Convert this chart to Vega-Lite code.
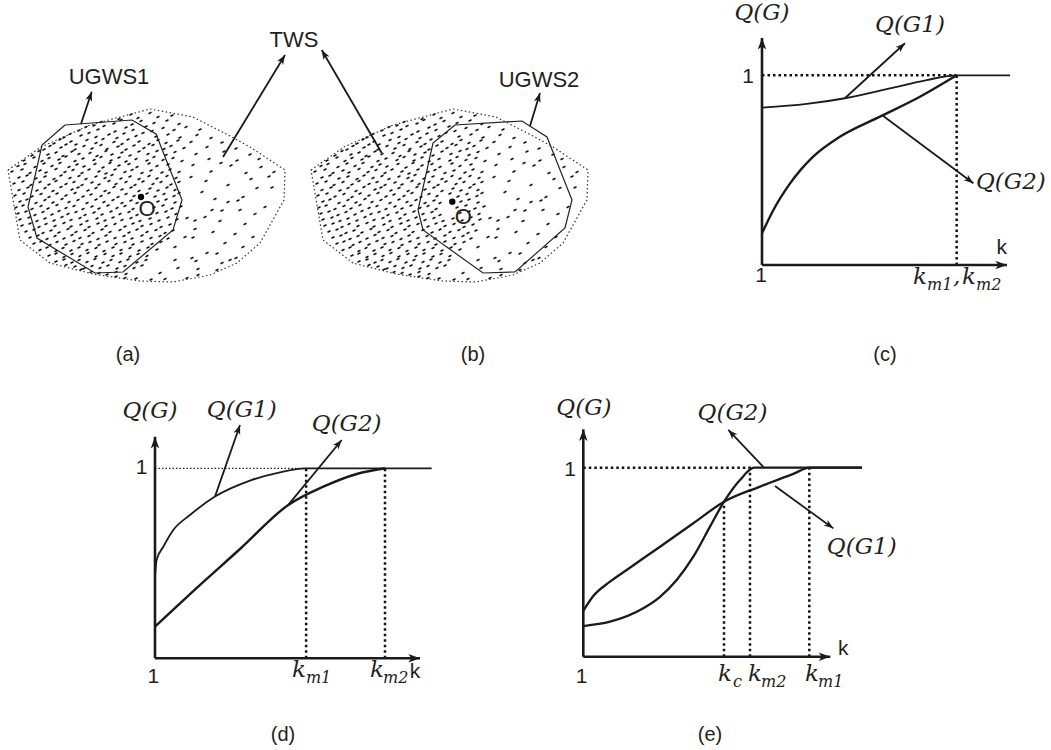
{
  "$schema": "https://vega.github.io/schema/vega-lite/v6.json",
  "background": "white",
  "padding": 0,
  "spacing": 0,
  "config": {"view": {"stroke": null}, "text": {"color": "#231f20"}},
  "datasets": {
    "cloud": [
      {"x":-2.6,"y":9.0},{"x":-1.4,"y":9.45},{"x":-0.7,"y":9.1},{"x":0.5,"y":9.6},{"x":1.3,"y":9.2},{"x":2.7,"y":9.35},
      {"x":-5.1,"y":8.35},{"x":-4.4,"y":8.7},{"x":-3.1,"y":8.55},{"x":-2.4,"y":8.9},{"x":-1.3,"y":8.45},{"x":-0.4,"y":8.8},{"x":0.9,"y":8.6},{"x":2.2,"y":8.85},{"x":3.4,"y":8.5},
      {"x":-6.6,"y":7.85},{"x":-5.9,"y":8.2},{"x":-4.7,"y":7.95},{"x":-4.1,"y":8.3},{"x":-3.0,"y":7.75},{"x":-1.9,"y":8.15},{"x":-1.2,"y":7.9},{"x":0.1,"y":8.25},{"x":0.7,"y":7.8},{"x":1.8,"y":8.1},{"x":2.9,"y":7.9},{"x":4.1,"y":8.2},{"x":5.5,"y":7.95},
      {"x":-8.1,"y":7.15},{"x":-7.5,"y":7.5},{"x":-6.4,"y":7.35},{"x":-5.6,"y":7.6},{"x":-4.9,"y":7.2},{"x":-3.6,"y":7.45},{"x":-2.8,"y":7.1},{"x":-2.1,"y":7.55},{"x":-0.9,"y":7.3},{"x":-0.2,"y":7.6},{"x":1.1,"y":7.25},{"x":2.3,"y":7.45},{"x":3.5,"y":7.15},{"x":5.2,"y":7.4},{"x":6.6,"y":7.1},
      {"x":-9.1,"y":6.55},{"x":-8.5,"y":6.95},{"x":-7.4,"y":6.75},{"x":-6.9,"y":6.45},{"x":-5.8,"y":6.9},{"x":-4.9,"y":6.6},{"x":-4.2,"y":7.0},{"x":-3.1,"y":6.7},{"x":-2.3,"y":6.5},{"x":-1.7,"y":6.95},{"x":-0.6,"y":6.75},{"x":0.4,"y":6.5},{"x":1.3,"y":6.9},{"x":2.1,"y":6.6},{"x":3.3,"y":6.85},{"x":4.6,"y":6.7},{"x":7.7,"y":6.65},
      {"x":-10.1,"y":5.95},{"x":-9.5,"y":6.3},{"x":-8.4,"y":6.15},{"x":-7.9,"y":6.45},{"x":-7.0,"y":5.95},{"x":-6.1,"y":6.3},{"x":-5.3,"y":6.05},{"x":-4.4,"y":6.4},{"x":-3.8,"y":6.0},{"x":-2.7,"y":6.25},{"x":-1.9,"y":5.95},{"x":-1.1,"y":6.35},{"x":-0.1,"y":6.1},{"x":0.8,"y":6.4},{"x":1.9,"y":6.0},{"x":2.6,"y":6.3},{"x":3.9,"y":6.1},{"x":6.2,"y":6.2},{"x":9.1,"y":6.05},
      {"x":-11.3,"y":5.35},{"x":-10.6,"y":5.8},{"x":-9.7,"y":5.45},{"x":-8.9,"y":5.65},{"x":-8.2,"y":5.3},{"x":-7.3,"y":5.75},{"x":-6.6,"y":5.5},{"x":-5.5,"y":5.6},{"x":-4.8,"y":5.3},{"x":-3.9,"y":5.8},{"x":-3.3,"y":5.45},{"x":-2.3,"y":5.65},{"x":-1.5,"y":5.35},{"x":-0.6,"y":5.75},{"x":0.3,"y":5.5},{"x":1.2,"y":5.8},{"x":2.1,"y":5.4},{"x":3.0,"y":5.7},{"x":5.1,"y":5.5},{"x":7.9,"y":5.75},{"x":10.5,"y":5.45},
      {"x":-12.1,"y":4.85},{"x":-11.1,"y":5.15},{"x":-10.3,"y":4.8},{"x":-9.6,"y":5.1},{"x":-8.6,"y":4.95},{"x":-7.9,"y":5.25},{"x":-7.0,"y":4.8},{"x":-6.2,"y":5.05},{"x":-5.1,"y":4.9},{"x":-4.4,"y":5.2},{"x":-3.4,"y":4.85},{"x":-2.6,"y":5.15},{"x":-1.9,"y":4.75},{"x":-0.9,"y":5.0},{"x":0.2,"y":4.85},{"x":0.9,"y":5.2},{"x":1.8,"y":4.9},{"x":2.8,"y":5.1},{"x":3.7,"y":4.8},{"x":6.4,"y":5.0},{"x":9.2,"y":4.85},{"x":11.4,"y":5.0},
      {"x":-12.7,"y":4.3},{"x":-12.0,"y":4.5},{"x":-11.0,"y":4.2},{"x":-10.1,"y":4.55},{"x":-9.3,"y":4.3},{"x":-8.5,"y":4.6},{"x":-7.6,"y":4.2},{"x":-6.8,"y":4.45},{"x":-6.1,"y":4.25},{"x":-5.0,"y":4.5},{"x":-4.2,"y":4.15},{"x":-3.5,"y":4.6},{"x":-2.6,"y":4.35},{"x":-1.6,"y":4.5},{"x":-0.8,"y":4.2},{"x":0.4,"y":4.55},{"x":1.2,"y":4.3},{"x":2.3,"y":4.45},{"x":4.8,"y":4.4},{"x":7.6,"y":4.6},{"x":8.6,"y":4.35},{"x":11.6,"y":4.2},
      {"x":-13.3,"y":3.75},{"x":-12.3,"y":3.95},{"x":-11.5,"y":3.6},{"x":-10.5,"y":3.85},{"x":-9.9,"y":3.65},{"x":-8.9,"y":4.0},{"x":-8.0,"y":3.7},{"x":-7.2,"y":3.9},{"x":-6.3,"y":3.6},{"x":-5.6,"y":3.95},{"x":-4.6,"y":3.75},{"x":-3.9,"y":3.55},{"x":-3.0,"y":3.95},{"x":-2.0,"y":3.7},{"x":-1.3,"y":3.9},{"x":-0.3,"y":3.6},{"x":0.6,"y":3.85},{"x":1.7,"y":3.65},{"x":2.5,"y":3.95},{"x":3.4,"y":3.7},{"x":6.6,"y":3.75},{"x":10.1,"y":3.6},{"x":12.9,"y":3.7},
      {"x":-12.6,"y":3.15},{"x":-11.8,"y":3.35},{"x":-10.9,"y":3.05},{"x":-10.0,"y":3.25},{"x":-9.1,"y":3.0},{"x":-8.4,"y":3.35},{"x":-7.5,"y":3.1},{"x":-6.6,"y":3.3},{"x":-5.9,"y":3.0},{"x":-4.9,"y":3.25},{"x":-4.0,"y":3.1},{"x":-3.3,"y":3.4},{"x":-2.4,"y":3.05},{"x":-1.5,"y":3.25},{"x":-0.6,"y":3.0},{"x":0.4,"y":3.3},{"x":1.2,"y":3.05},{"x":2.2,"y":3.3},{"x":3.1,"y":3.1},{"x":4.6,"y":3.2},{"x":10.6,"y":3.0},{"x":12.4,"y":3.25},
      {"x":-13.1,"y":2.55},{"x":-12.2,"y":2.75},{"x":-11.4,"y":2.4},{"x":-10.5,"y":2.7},{"x":-9.6,"y":2.45},{"x":-8.9,"y":2.8},{"x":-7.9,"y":2.5},{"x":-7.1,"y":2.7},{"x":-6.3,"y":2.4},{"x":-5.3,"y":2.65},{"x":-4.6,"y":2.45},{"x":-3.6,"y":2.8},{"x":-2.9,"y":2.5},{"x":-1.9,"y":2.7},{"x":-1.0,"y":2.4},{"x":-0.2,"y":2.75},{"x":0.8,"y":2.5},{"x":1.6,"y":2.7},{"x":2.6,"y":2.45},{"x":3.4,"y":2.7},{"x":6.1,"y":2.8},{"x":8.3,"y":2.4},{"x":11.2,"y":2.1},{"x":12.7,"y":2.15},
      {"x":-12.6,"y":1.9},{"x":-11.7,"y":2.15},{"x":-10.8,"y":1.85},{"x":-10.0,"y":2.1},{"x":-9.2,"y":1.8},{"x":-8.4,"y":2.2},{"x":-7.3,"y":1.95},{"x":-6.7,"y":2.15},{"x":-5.7,"y":1.85},{"x":-4.9,"y":2.1},{"x":-4.0,"y":1.8},{"x":-3.1,"y":2.2},{"x":-2.3,"y":1.95},{"x":-1.4,"y":2.15},{"x":-0.6,"y":1.8},{"x":0.5,"y":2.05},{"x":1.3,"y":1.85},{"x":2.2,"y":2.15},{"x":3.0,"y":1.9},{"x":5.7,"y":1.7},
      {"x":-13.0,"y":1.35},{"x":-12.1,"y":1.55},{"x":-11.3,"y":1.25},{"x":-10.4,"y":1.5},{"x":-9.6,"y":1.2},{"x":-8.8,"y":1.55},{"x":-7.9,"y":1.35},{"x":-7.0,"y":1.6},{"x":-6.2,"y":1.25},{"x":-5.4,"y":1.45},{"x":-4.4,"y":1.3},{"x":-3.6,"y":1.6},{"x":-2.7,"y":1.2},{"x":-1.9,"y":1.5},{"x":-1.1,"y":1.3},{"x":0.2,"y":1.55},{"x":1.0,"y":1.25},{"x":1.9,"y":1.5},{"x":2.9,"y":1.3},{"x":3.4,"y":1.6},{"x":7.0,"y":1.0},{"x":9.8,"y":1.2},
      {"x":-12.5,"y":0.75},{"x":-11.8,"y":0.95},{"x":-10.9,"y":0.6},{"x":-10.0,"y":0.9},{"x":-9.2,"y":0.65},{"x":-8.3,"y":1.0},{"x":-7.6,"y":0.7},{"x":-6.7,"y":0.9},{"x":-5.8,"y":0.6},{"x":-4.9,"y":0.95},{"x":-4.1,"y":0.7},{"x":-3.2,"y":0.9},{"x":-2.3,"y":0.6},{"x":-1.4,"y":0.85},{"x":-0.8,"y":0.6},{"x":1.3,"y":0.75},{"x":2.1,"y":0.95},{"x":3.0,"y":0.65},{"x":8.3,"y":0.7},{"x":9.3,"y":0.85},
      {"x":-12.9,"y":0.15},{"x":-12.2,"y":0.35},{"x":-11.3,"y":0.0},{"x":-10.4,"y":0.3},{"x":-9.7,"y":0.05},{"x":-8.8,"y":0.4},{"x":-7.9,"y":0.1},{"x":-7.1,"y":0.3},{"x":-6.2,"y":0.0},{"x":-5.3,"y":0.25},{"x":-4.6,"y":0.05},{"x":-3.7,"y":0.35},{"x":-2.8,"y":0.1},{"x":-2.0,"y":0.3},{"x":-1.2,"y":0.0},{"x":0.9,"y":0.15},{"x":1.8,"y":0.35},{"x":2.7,"y":0.05},{"x":3.6,"y":0.25},{"x":12.0,"y":0.2},
      {"x":-12.7,"y":-0.45},{"x":-11.9,"y":-0.25},{"x":-11.0,"y":-0.6},{"x":-10.2,"y":-0.3},{"x":-9.3,"y":-0.55},{"x":-8.6,"y":-0.2},{"x":-7.7,"y":-0.5},{"x":-6.9,"y":-0.3},{"x":-6.0,"y":-0.6},{"x":-5.1,"y":-0.35},{"x":-4.3,"y":-0.55},{"x":-3.4,"y":-0.25},{"x":-2.5,"y":-0.5},{"x":-1.6,"y":-0.3},{"x":-0.8,"y":-0.6},{"x":1.2,"y":-0.4},{"x":2.1,"y":-0.25},{"x":3.1,"y":-0.5},{"x":6.7,"y":-0.1},{"x":7.7,"y":-0.15},{"x":9.5,"y":-0.1},{"x":11.0,"y":-0.5},
      {"x":-12.5,"y":-1.05},{"x":-11.6,"y":-0.85},{"x":-10.8,"y":-1.2},{"x":-10.0,"y":-0.95},{"x":-9.1,"y":-1.15},{"x":-8.3,"y":-0.8},{"x":-7.4,"y":-1.1},{"x":-6.5,"y":-0.9},{"x":-5.8,"y":-1.2},{"x":-4.8,"y":-0.95},{"x":-4.0,"y":-1.15},{"x":-3.2,"y":-0.85},{"x":-2.3,"y":-1.1},{"x":-1.4,"y":-0.9},{"x":-0.5,"y":-1.2},{"x":0.5,"y":-0.95},{"x":1.4,"y":-1.15},{"x":2.3,"y":-0.85},{"x":3.2,"y":-1.05},{"x":4.2,"y":-0.9},{"x":5.0,"y":-1.15},{"x":6.0,"y":-0.8},{"x":7.5,"y":-1.2},
      {"x":-12.3,"y":-1.65},{"x":-11.5,"y":-1.45},{"x":-10.6,"y":-1.8},{"x":-9.9,"y":-1.5},{"x":-9.0,"y":-1.7},{"x":-8.1,"y":-1.4},{"x":-7.4,"y":-1.75},{"x":-6.4,"y":-1.55},{"x":-5.6,"y":-1.8},{"x":-4.7,"y":-1.45},{"x":-3.9,"y":-1.7},{"x":-3.0,"y":-1.5},{"x":-2.0,"y":-1.75},{"x":-1.2,"y":-1.45},{"x":-0.3,"y":-1.7},{"x":0.6,"y":-1.5},{"x":1.6,"y":-1.8},{"x":2.5,"y":-1.55},{"x":10.0,"y":-1.5},
      {"x":-11.9,"y":-2.25},{"x":-11.1,"y":-2.05},{"x":-10.2,"y":-2.4},{"x":-9.4,"y":-2.15},{"x":-8.6,"y":-2.35},{"x":-7.7,"y":-2.0},{"x":-6.9,"y":-2.3},{"x":-6.0,"y":-2.1},{"x":-5.2,"y":-2.4},{"x":-4.3,"y":-2.05},{"x":-3.5,"y":-2.3},{"x":-2.5,"y":-2.1},{"x":-1.6,"y":-2.35},{"x":-0.8,"y":-2.05},{"x":0.2,"y":-2.3},{"x":1.1,"y":-2.1},{"x":2.0,"y":-2.4},{"x":2.8,"y":-2.15},{"x":5.0,"y":-2.0},{"x":6.8,"y":-2.3},
      {"x":-11.5,"y":-2.85},{"x":-10.7,"y":-2.65},{"x":-9.8,"y":-3.0},{"x":-9.0,"y":-2.7},{"x":-8.1,"y":-2.95},{"x":-7.3,"y":-2.6},{"x":-6.5,"y":-2.9},{"x":-5.6,"y":-2.7},{"x":-4.7,"y":-3.0},{"x":-3.9,"y":-2.65},{"x":-3.0,"y":-2.9},{"x":-2.1,"y":-2.7},{"x":-1.3,"y":-2.95},{"x":-0.3,"y":-2.65},{"x":0.6,"y":-2.9},{"x":1.5,"y":-2.7},{"x":2.3,"y":-2.95},{"x":4.0,"y":-2.8},{"x":4.8,"y":-2.85},{"x":9.0,"y":-2.5},{"x":10.8,"y":-2.8},
      {"x":-11.1,"y":-3.45},{"x":-10.4,"y":-3.25},{"x":-9.5,"y":-3.6},{"x":-8.8,"y":-3.3},{"x":-7.9,"y":-3.55},{"x":-7.1,"y":-3.2},{"x":-6.3,"y":-3.5},{"x":-5.5,"y":-3.3},{"x":-4.6,"y":-3.6},{"x":-3.8,"y":-3.25},{"x":-2.9,"y":-3.5},{"x":-2.0,"y":-3.3},{"x":-1.2,"y":-3.55},{"x":-0.3,"y":-3.25},{"x":0.7,"y":-3.5},{"x":1.6,"y":-3.3},{"x":8.0,"y":-3.4},
      {"x":-10.5,"y":-4.1},{"x":-9.8,"y":-3.85},{"x":-8.9,"y":-4.2},{"x":-8.2,"y":-3.9},{"x":-7.4,"y":-4.15},{"x":-6.6,"y":-3.85},{"x":-5.8,"y":-4.1},{"x":-4.9,"y":-3.9},{"x":-4.1,"y":-4.2},{"x":-3.2,"y":-3.85},{"x":-2.4,"y":-4.1},{"x":-1.5,"y":-3.9},{"x":-0.6,"y":-4.15},{"x":0.3,"y":-3.85},{"x":1.2,"y":-4.05},{"x":3.0,"y":-3.8},{"x":9.8,"y":-3.8},
      {"x":-9.6,"y":-4.65},{"x":-8.9,"y":-4.45},{"x":-8.1,"y":-4.8},{"x":-7.3,"y":-4.5},{"x":-6.5,"y":-4.7},{"x":-5.7,"y":-4.4},{"x":-4.9,"y":-4.75},{"x":-4.0,"y":-4.5},{"x":-3.2,"y":-4.7},{"x":-2.4,"y":-4.45},{"x":-1.5,"y":-4.75},{"x":-0.7,"y":-4.5},{"x":0.2,"y":-4.7},{"x":6.2,"y":-4.4},{"x":7.2,"y":-4.45},
      {"x":-8.9,"y":-5.25},{"x":-8.1,"y":-5.05},{"x":-7.3,"y":-5.35},{"x":-6.6,"y":-5.1},{"x":-5.8,"y":-5.3},{"x":-5.0,"y":-5.0},{"x":-4.2,"y":-5.35},{"x":-3.4,"y":-5.1},{"x":-2.5,"y":-5.3},{"x":-1.7,"y":-5.05},{"x":-0.8,"y":-5.35},{"x":0.1,"y":-5.1},{"x":3.0,"y":-5.1},{"x":4.7,"y":-4.9},{"x":5.1,"y":-5.2},{"x":7.7,"y":-5.4},{"x":8.5,"y":-5.1},{"x":9.1,"y":-4.9},
      {"x":-7.9,"y":-5.6},{"x":-7.0,"y":-5.75},{"x":-6.1,"y":-5.95},{"x":-5.3,"y":-5.7},{"x":-4.5,"y":-5.9},{"x":-3.7,"y":-5.65},{"x":-2.8,"y":-5.95},{"x":-2.0,"y":-5.7},{"x":-1.1,"y":-5.9},{"x":-0.3,"y":-5.65},{"x":3.3,"y":-5.9},{"x":5.3,"y":-6.0},
      {"x":-6.4,"y":-6.05},{"x":-5.4,"y":-6.3},{"x":-4.6,"y":-6.4},{"x":-3.8,"y":-6.55},{"x":-2.9,"y":-6.3},{"x":-1.9,"y":-6.5},{"x":1.5,"y":-6.4},{"x":5.3,"y":-6.6},{"x":7.2,"y":-6.1},
      {"x":-2.9,"y":-6.75},{"x":-2.0,"y":-6.9},{"x":-0.9,"y":-6.95},{"x":0.6,"y":-7.05},{"x":2.0,"y":-7.0},{"x":4.2,"y":-6.9}
    ],
    "hull": [
      {"i":0,"x":-13.7,"y":3.9},{"i":1,"x":-10.4,"y":6.2},{"i":2,"x":-5.5,"y":8.4},{"i":3,"x":0.5,"y":10.0},{"i":4,"x":4.8,"y":9.2},{"i":5,"x":8.5,"y":7.3},{"i":6,"x":10.5,"y":6.2},{"i":7,"x":14.0,"y":3.9},{"i":8,"x":13.9,"y":0.9},{"i":9,"x":11.5,"y":-3.4},{"i":10,"x":9.2,"y":-5.4},{"i":11,"x":6.5,"y":-6.6},{"i":12,"x":2.8,"y":-7.3},{"i":13,"x":-0.5,"y":-7.2},{"i":14,"x":-5.2,"y":-6.5},{"i":15,"x":-9.5,"y":-5.4},{"i":16,"x":-12.5,"y":-3.1},{"i":17,"x":-13.7,"y":3.9}
    ]
  },
  "vconcat": [
    {
      "spacing": 0,
      "bounds": "flush",
      "hconcat": [
        {
          "width": 300,
          "height": 375,
          "encoding": {
            "x": {"field": "x", "type": "quantitative", "scale": {"domain": [-14.5, 15.5], "nice": false, "zero": false}, "axis": null},
            "y": {"field": "y", "type": "quantitative", "scale": {"domain": [-16.6, 20.9], "nice": false, "zero": false}, "axis": null}
          },
          "layer": [
            {"data": {"name": "cloud"}, "mark": {"type": "point", "shape": "M-1,0.5L1,-0.5", "filled": false, "stroke": "#111", "strokeWidth": 1.5, "size": 9, "opacity": 1}},
            {"data": {"name": "hull"}, "mark": {"type": "line", "color": "#333", "strokeWidth": 1.2, "strokeDash": [1.5, 2.5]}, "encoding": {"order": {"field": "i", "type": "quantitative"}}},
            {"data": {"values": [
              {"i":0,"x":-8.0,"y":8.4},{"i":1,"x":-1.3,"y":8.9},{"i":2,"x":1.1,"y":7.5},{"i":3,"x":3.7,"y":0.9},{"i":4,"x":2.8,"y":-2.1},{"i":5,"x":-2.2,"y":-6.3},{"i":6,"x":-5.0,"y":-6.4},{"i":7,"x":-10.8,"y":-2.9},{"i":8,"x":-11.7,"y":0.2},{"i":9,"x":-10.3,"y":6.4},{"i":10,"x":-8.0,"y":8.4}
            ]}, "mark": {"type": "line", "color": "#222", "strokeWidth": 1.2}, "encoding": {"order": {"field": "i", "type": "quantitative"}}},
            {"data": {"values": [
              {"x":-6.4,"y":8.5,"x2":-5.33,"y2":11.73,"h":18.3},
              {"x":7.8,"y":5.2,"x2":14.0,"y2":15.4,"h":31.3}
            ]}, "layer": [
              {"mark": {"type": "rule", "color": "#1a1a1a", "strokeWidth": 1.8}, "encoding": {"x2": {"field": "x2"}, "y2": {"field": "y2"}}},
              {"mark": {"type": "point", "shape": "M0,0L0.7,1.9L0,1.4L-0.7,1.9Z", "filled": true, "color": "#1a1a1a", "size": 100, "opacity": 1},
               "encoding": {"x": {"field": "x2", "type": "quantitative"}, "y": {"field": "y2", "type": "quantitative"}, "angle": {"field": "h", "type": "quantitative", "scale": null}}}
            ]},
            {"data": {"values": [{"x": -0.4, "y": 1.2}]}, "mark": {"type": "circle", "size": 40, "color": "#000", "opacity": 1}},
            {"data": {"values": [
              {"x":-3.6,"y":13.2,"t":"UGWS1"},{"x":14.9,"y":16.95,"t":"TWS"},{"x":0.2,"y":0.0,"t":"O"}
            ]}, "mark": {"type": "text", "font": "Liberation Sans", "fontSize": 22}, "encoding": {"text": {"field": "t"}}},
            {"data": {"values": [{"x": -1.7, "y": -14.6, "t": "(a)"}]}, "mark": {"type": "text", "font": "Liberation Sans", "fontSize": 20}, "encoding": {"text": {"field": "t"}}}
          ]
        },
        {
          "width": 300,
          "height": 375,
          "encoding": {
            "x": {"field": "x", "type": "quantitative", "scale": {"domain": [-14.8, 15.2], "nice": false, "zero": false}, "axis": null},
            "y": {"field": "y", "type": "quantitative", "scale": {"domain": [-16.6, 20.9], "nice": false, "zero": false}, "axis": null}
          },
          "layer": [
            {"data": {"name": "cloud"}, "mark": {"type": "point", "shape": "M-1,0.5L1,-0.5", "filled": false, "stroke": "#111", "strokeWidth": 1.5, "size": 9, "opacity": 1}},
            {"data": {"name": "hull"}, "mark": {"type": "line", "color": "#333", "strokeWidth": 1.2, "strokeDash": [1.5, 2.5]}, "encoding": {"order": {"field": "i", "type": "quantitative"}}},
            {"data": {"values": [
              {"i":0,"x":0.7,"y":8.4},{"i":1,"x":7.4,"y":8.8},{"i":2,"x":9.9,"y":7.2},{"i":3,"x":12.4,"y":0.9},{"i":4,"x":11.7,"y":-1.9},{"i":5,"x":6.7,"y":-6.3},{"i":6,"x":3.5,"y":-6.4},{"i":7,"x":-2.5,"y":-2.1},{"i":8,"x":-3.0,"y":-0.1},{"i":9,"x":-1.5,"y":6.6},{"i":10,"x":0.7,"y":8.4}
            ]}, "mark": {"type": "line", "color": "#222", "strokeWidth": 1.2}, "encoding": {"order": {"field": "i", "type": "quantitative"}}},
            {"data": {"values": [
              {"x":-6.63,"y":5.6,"x2":-12.63,"y2":15.9,"h":-30.2},
              {"x":8.2,"y":8.3,"x2":9.2,"y2":11.6,"h":17.4}
            ]}, "layer": [
              {"mark": {"type": "rule", "color": "#1a1a1a", "strokeWidth": 1.8}, "encoding": {"x2": {"field": "x2"}, "y2": {"field": "y2"}}},
              {"mark": {"type": "point", "shape": "M0,0L0.7,1.9L0,1.4L-0.7,1.9Z", "filled": true, "color": "#1a1a1a", "size": 100, "opacity": 1},
               "encoding": {"x": {"field": "x2", "type": "quantitative"}, "y": {"field": "y2", "type": "quantitative"}, "angle": {"field": "h", "type": "quantitative", "scale": null}}}
            ]},
            {"data": {"values": [{"x": 0.43, "y": 0.73}]}, "mark": {"type": "circle", "size": 40, "color": "#000", "opacity": 1}},
            {"data": {"values": [
              {"x":9.1,"y":12.9,"t":"UGWS2"},{"x":1.53,"y":-0.77,"t":"O"}
            ]}, "mark": {"type": "text", "font": "Liberation Sans", "fontSize": 22}, "encoding": {"text": {"field": "t"}}},
            {"data": {"values": [{"x": 2.5, "y": -14.6, "t": "(b)"}]}, "mark": {"type": "text", "font": "Liberation Sans", "fontSize": 20}, "encoding": {"text": {"field": "t"}}}
          ]
        },
        {
          "width": 451,
          "height": 375,
          "encoding": {
            "x": {"field": "x", "type": "quantitative", "scale": {"domain": [-4.825, 11.392], "nice": false, "zero": false}, "axis": null},
            "y": {"field": "y", "type": "quantitative", "scale": {"domain": [-0.58, 1.397], "nice": false, "zero": false}, "axis": null}
          },
          "layer": [
            {"data": {"values": [
              {"x":1,"y":1,"x2":8,"y2":1},{"x":8,"y":0,"x2":8,"y2":1}
            ]}, "mark": {"type": "rule", "color": "#111", "strokeWidth": 2.5, "strokeDash": [2.5, 3]}, "encoding": {"x2": {"field": "x2"}, "y2": {"field": "y2"}}},
            {"data": {"values": [
              {"x":1,"y":0.83},{"x":2.61,"y":0.849},{"x":3.98,"y":0.879},{"x":5.6,"y":0.931},{"x":6.92,"y":0.975},{"x":8,"y":1},{"x":9.92,"y":1}
            ]}, "mark": {"type": "line", "interpolate": "monotone", "color": "#1a1a1a", "strokeWidth": 1.8}},
            {"data": {"values": [
              {"x":1,"y":0.167},{"x":1.41,"y":0.29},{"x":2.01,"y":0.43},{"x":2.84,"y":0.571},{"x":3.8,"y":0.676},{"x":5.24,"y":0.782},{"x":6.68,"y":0.887},{"x":8,"y":1}
            ]}, "mark": {"type": "line", "interpolate": "monotone", "color": "#1a1a1a", "strokeWidth": 2.4}},
            {"data": {"values": [
              {"x":1,"y":0,"x2":1,"y2":1.197,"h":0},{"x":1,"y":0,"x2":9.81,"y2":0,"h":90}
            ]}, "layer": [
              {"mark": {"type": "rule", "color": "#1a1a1a", "strokeWidth": 2.6}, "encoding": {"x2": {"field": "x2"}, "y2": {"field": "y2"}}},
              {"mark": {"type": "point", "shape": "M0,0L0.7,1.9L0,1.4L-0.7,1.9Z", "filled": true, "color": "#1a1a1a", "size": 150, "opacity": 1},
               "encoding": {"x": {"field": "x2", "type": "quantitative"}, "y": {"field": "y2", "type": "quantitative"}, "angle": {"field": "h", "type": "quantitative", "scale": null}}}
            ]},
            {"data": {"values": [
              {"x":3.98,"y":0.879,"x2":6.14,"y2":1.169,"h":47.5},
              {"x":5.36,"y":0.785,"x2":8.6,"y2":0.431,"h":126.8}
            ]}, "layer": [
              {"mark": {"type": "rule", "color": "#1a1a1a", "strokeWidth": 1.8}, "encoding": {"x2": {"field": "x2"}, "y2": {"field": "y2"}}},
              {"mark": {"type": "point", "shape": "M0,0L0.7,1.9L0,1.4L-0.7,1.9Z", "filled": true, "color": "#1a1a1a", "size": 100, "opacity": 1},
               "encoding": {"x": {"field": "x2", "type": "quantitative"}, "y": {"field": "y2", "type": "quantitative"}, "angle": {"field": "h", "type": "quantitative", "scale": null}}}
            ]},
            {"data": {"values": [
              {"x":1,"y":1.33,"t":"Q(G)"},{"x":6.32,"y":1.265,"t":"Q(G1)"},{"x":9.95,"y":0.439,"t":"Q(G2)"}
            ]}, "mark": {"type": "text", "font": "DejaVu Serif", "fontStyle": "italic", "fontSize": 23}, "encoding": {"text": {"field": "t"}}},
            {"data": {"values": [
              {"x":6.43,"y":-0.063,"t":"k"},{"x":7.87,"y":-0.063,"t":","},{"x":8.192,"y":-0.063,"t":"k"}
            ]}, "mark": {"type": "text", "font": "DejaVu Serif", "fontStyle": "italic", "fontSize": 23, "align": "left"}, "encoding": {"text": {"field": "t"}}},
            {"data": {"values": [
              {"x":6.933,"y":-0.105,"t":"m1"},{"x":8.695,"y":-0.105,"t":"m2"}
            ]}, "mark": {"type": "text", "font": "DejaVu Serif", "fontStyle": "italic", "fontSize": 16, "align": "left"}, "encoding": {"text": {"field": "t"}}},
            {"data": {"values": [
              {"x":9.62,"y":0.088,"t":"k"},{"x":0.964,"y":-0.058,"t":"1"},{"x":0.497,"y":0.993,"t":"1"}
            ]}, "mark": {"type": "text", "font": "Liberation Sans", "fontSize": 21}, "encoding": {"text": {"field": "t"}}},
            {"data": {"values": [{"x": 5.423, "y": -0.474, "t": "(c)"}]}, "mark": {"type": "text", "font": "Liberation Sans", "fontSize": 20}, "encoding": {"text": {"field": "t"}}}
          ]
        }
      ]
    },
    {
      "spacing": 0,
      "bounds": "flush",
      "hconcat": [
        {
          "width": 500,
          "height": 375,
          "encoding": {
            "x": {"field": "x", "type": "quantitative", "scale": {"domain": [-3.717, 11.5], "nice": false, "zero": false}, "axis": null},
            "y": {"field": "y", "type": "quantitative", "scale": {"domain": [-0.483, 1.491], "nice": false, "zero": false}, "axis": null}
          },
          "layer": [
            {"data": {"values": [{"x":1,"y":1,"x2":5.6,"y2":1}]}, "mark": {"type": "rule", "color": "#222", "strokeWidth": 1.3, "strokeDash": [1.5, 2]}, "encoding": {"x2": {"field": "x2"}, "y2": {"field": "y2"}}},
            {"data": {"values": [
              {"x":5.6,"y":0,"x2":5.6,"y2":1},{"x":8,"y":0,"x2":8,"y2":1}
            ]}, "mark": {"type": "rule", "color": "#111", "strokeWidth": 2.5, "strokeDash": [2.5, 3]}, "encoding": {"x2": {"field": "x2"}, "y2": {"field": "y2"}}},
            {"data": {"values": [
              {"x":1,"y":0.43},{"x":1.05,"y":0.517},{"x":1.253,"y":0.587},{"x":1.557,"y":0.675},{"x":2.065,"y":0.754},{"x":2.826,"y":0.851},{"x":3.891,"y":0.935},{"x":4.804,"y":0.979},{"x":5.6,"y":1.0},{"x":9.42,"y":1.0}
            ]}, "mark": {"type": "line", "interpolate": "monotone", "color": "#1a1a1a", "strokeWidth": 1.8}},
            {"data": {"values": [
              {"x":1,"y":0.167},{"x":2.065,"y":0.338},{"x":3.587,"y":0.575},{"x":5.057,"y":0.807},{"x":6.122,"y":0.903},{"x":7.139,"y":0.97},{"x":8,"y":1.0}
            ]}, "mark": {"type": "line", "interpolate": "monotone", "color": "#1a1a1a", "strokeWidth": 2.4}},
            {"data": {"values": [
              {"x":1,"y":0,"x2":1,"y2":1.166,"h":0},{"x":1,"y":0,"x2":9.065,"y2":0,"h":90}
            ]}, "layer": [
              {"mark": {"type": "rule", "color": "#1a1a1a", "strokeWidth": 2.6}, "encoding": {"x2": {"field": "x2"}, "y2": {"field": "y2"}}},
              {"mark": {"type": "point", "shape": "M0,0L0.7,1.9L0,1.4L-0.7,1.9Z", "filled": true, "color": "#1a1a1a", "size": 150, "opacity": 1},
               "encoding": {"x": {"field": "x2", "type": "quantitative"}, "y": {"field": "y2", "type": "quantitative"}, "angle": {"field": "h", "type": "quantitative", "scale": null}}}
            ]},
            {"data": {"values": [
              {"x":2.826,"y":0.851,"x2":3.587,"y2":1.228,"h":19.2},
              {"x":5.057,"y":0.807,"x2":6.682,"y2":1.149,"h":39.4}
            ]}, "layer": [
              {"mark": {"type": "rule", "color": "#1a1a1a", "strokeWidth": 1.8}, "encoding": {"x2": {"field": "x2"}, "y2": {"field": "y2"}}},
              {"mark": {"type": "point", "shape": "M0,0L0.7,1.9L0,1.4L-0.7,1.9Z", "filled": true, "color": "#1a1a1a", "size": 100, "opacity": 1},
               "encoding": {"x": {"field": "x2", "type": "quantitative"}, "y": {"field": "y2", "type": "quantitative"}, "angle": {"field": "h", "type": "quantitative", "scale": null}}}
            ]},
            {"data": {"values": [
              {"x":0.848,"y":1.302,"t":"Q(G)"},{"x":3.639,"y":1.307,"t":"Q(G1)"},{"x":6.834,"y":1.233,"t":"Q(G2)"}
            ]}, "mark": {"type": "text", "font": "DejaVu Serif", "fontStyle": "italic", "fontSize": 23}, "encoding": {"text": {"field": "t"}}},
            {"data": {"values": [
              {"x":5.166,"y":-0.0616,"t":"k"},{"x":7.544,"y":-0.0616,"t":"k"}
            ]}, "mark": {"type": "text", "font": "DejaVu Serif", "fontStyle": "italic", "fontSize": 23, "align": "left"}, "encoding": {"text": {"field": "t"}}},
            {"data": {"values": [
              {"x":5.592,"y":-0.1037,"t":"m1"},{"x":7.939,"y":-0.1037,"t":"m2"}
            ]}, "mark": {"type": "text", "font": "DejaVu Serif", "fontStyle": "italic", "fontSize": 16, "align": "left"}, "encoding": {"text": {"field": "t"}}},
            {"data": {"values": [
              {"x":8.913,"y":-0.07,"t":"k"},{"x":0.948,"y":-0.097,"t":"1"},{"x":0.595,"y":1.0,"t":"1"}
            ]}, "mark": {"type": "text", "font": "Liberation Sans", "fontSize": 21}, "encoding": {"text": {"field": "t"}}},
            {"data": {"values": [{"x": 4.896, "y": -0.404, "t": "(d)"}]}, "mark": {"type": "text", "font": "Liberation Sans", "fontSize": 20}, "encoding": {"text": {"field": "t"}}}
          ]
        },
        {
          "width": 551,
          "height": 375,
          "encoding": {
            "x": {"field": "x", "type": "quantitative", "scale": {"domain": [-1.58, 15.486], "nice": false, "zero": false}, "axis": null},
            "y": {"field": "y", "type": "quantitative", "scale": {"domain": [-0.4937, 1.4905], "nice": false, "zero": false}, "axis": null}
          },
          "layer": [
            {"data": {"values": [
              {"x":1,"y":1,"x2":6.2,"y2":1},{"x":5.358,"y":0,"x2":5.358,"y2":0.82},{"x":6.163,"y":0,"x2":6.163,"y2":1},{"x":8,"y":0,"x2":8,"y2":1}
            ]}, "mark": {"type": "rule", "color": "#111", "strokeWidth": 2.5, "strokeDash": [2.5, 3]}, "encoding": {"x2": {"field": "x2"}, "y2": {"field": "y2"}}},
            {"data": {"values": [
              {"x":1,"y":0.243},{"x":1.31,"y":0.321},{"x":1.827,"y":0.397},{"x":2.344,"y":0.459},{"x":3.376,"y":0.582},{"x":4.407,"y":0.706},{"x":5.358,"y":0.82},{"x":6.473,"y":0.9},{"x":7.504,"y":0.967},{"x":8,"y":1},{"x":9.632,"y":1}
            ]}, "mark": {"type": "line", "interpolate": "monotone", "color": "#1a1a1a", "strokeWidth": 2.3}},
            {"data": {"values": [
              {"x":1,"y":0.162},{"x":1.827,"y":0.185},{"x":2.858,"y":0.256},{"x":3.376,"y":0.317},{"x":3.893,"y":0.406},{"x":4.407,"y":0.529},{"x":4.924,"y":0.688},{"x":5.358,"y":0.82},{"x":5.853,"y":0.935},{"x":6.3,"y":1.0},{"x":9.632,"y":1.0}
            ]}, "mark": {"type": "line", "interpolate": "monotone", "color": "#1a1a1a", "strokeWidth": 2.3}},
            {"data": {"values": [
              {"x":1,"y":0,"x2":1,"y2":1.203,"h":0},{"x":1,"y":0,"x2":8.65,"y2":0,"h":90}
            ]}, "layer": [
              {"mark": {"type": "rule", "color": "#1a1a1a", "strokeWidth": 2.6}, "encoding": {"x2": {"field": "x2"}, "y2": {"field": "y2"}}},
              {"mark": {"type": "point", "shape": "M0,0L0.7,1.9L0,1.4L-0.7,1.9Z", "filled": true, "color": "#1a1a1a", "size": 150, "opacity": 1},
               "encoding": {"x": {"field": "x2", "type": "quantitative"}, "y": {"field": "y2", "type": "quantitative"}, "angle": {"field": "h", "type": "quantitative", "scale": null}}}
            ]},
            {"data": {"values": [
              {"x":6.575,"y":1.005,"x2":5.491,"y2":1.2,"h":-43.6},
              {"x":6.937,"y":0.903,"x2":8.743,"y2":0.679,"h":126}
            ]}, "layer": [
              {"mark": {"type": "rule", "color": "#1a1a1a", "strokeWidth": 1.8}, "encoding": {"x2": {"field": "x2"}, "y2": {"field": "y2"}}},
              {"mark": {"type": "point", "shape": "M0,0L0.7,1.9L0,1.4L-0.7,1.9Z", "filled": true, "color": "#1a1a1a", "size": 100, "opacity": 1},
               "encoding": {"x": {"field": "x2", "type": "quantitative"}, "y": {"field": "y2", "type": "quantitative"}, "angle": {"field": "h", "type": "quantitative", "scale": null}}}
            ]},
            {"data": {"values": [
              {"x":1.02,"y":1.316,"t":"Q(G)"},{"x":5.621,"y":1.289,"t":"Q(G2)"},{"x":9.623,"y":0.583,"t":"Q(G1)"}
            ]}, "mark": {"type": "text", "font": "DejaVu Serif", "fontStyle": "italic", "fontSize": 23}, "encoding": {"text": {"field": "t"}}},
            {"data": {"values": [
              {"x":5.172,"y":-0.0915,"t":"k"},{"x":6.101,"y":-0.0915,"t":"k"},{"x":7.866,"y":-0.0915,"t":"k"}
            ]}, "mark": {"type": "text", "font": "DejaVu Serif", "fontStyle": "italic", "fontSize": 23, "align": "left"}, "encoding": {"text": {"field": "t"}}},
            {"data": {"values": [
              {"x":5.637,"y":-0.134,"t":"c"},{"x":6.504,"y":-0.134,"t":"m2"},{"x":8.269,"y":-0.134,"t":"m1"}
            ]}, "mark": {"type": "text", "font": "DejaVu Serif", "fontStyle": "italic", "fontSize": 16, "align": "left"}, "encoding": {"text": {"field": "t"}}},
            {"data": {"values": [
              {"x":9.053,"y":0.039,"t":"k"},{"x":0.95,"y":-0.106,"t":"1"},{"x":0.588,"y":0.988,"t":"1"}
            ]}, "mark": {"type": "text", "font": "Liberation Sans", "fontSize": 21}, "encoding": {"text": {"field": "t"}}},
            {"data": {"values": [{"x": 4.924, "y": -0.414, "t": "(e)"}]}, "mark": {"type": "text", "font": "Liberation Sans", "fontSize": 20}, "encoding": {"text": {"field": "t"}}}
          ]
        }
      ]
    }
  ]
}
